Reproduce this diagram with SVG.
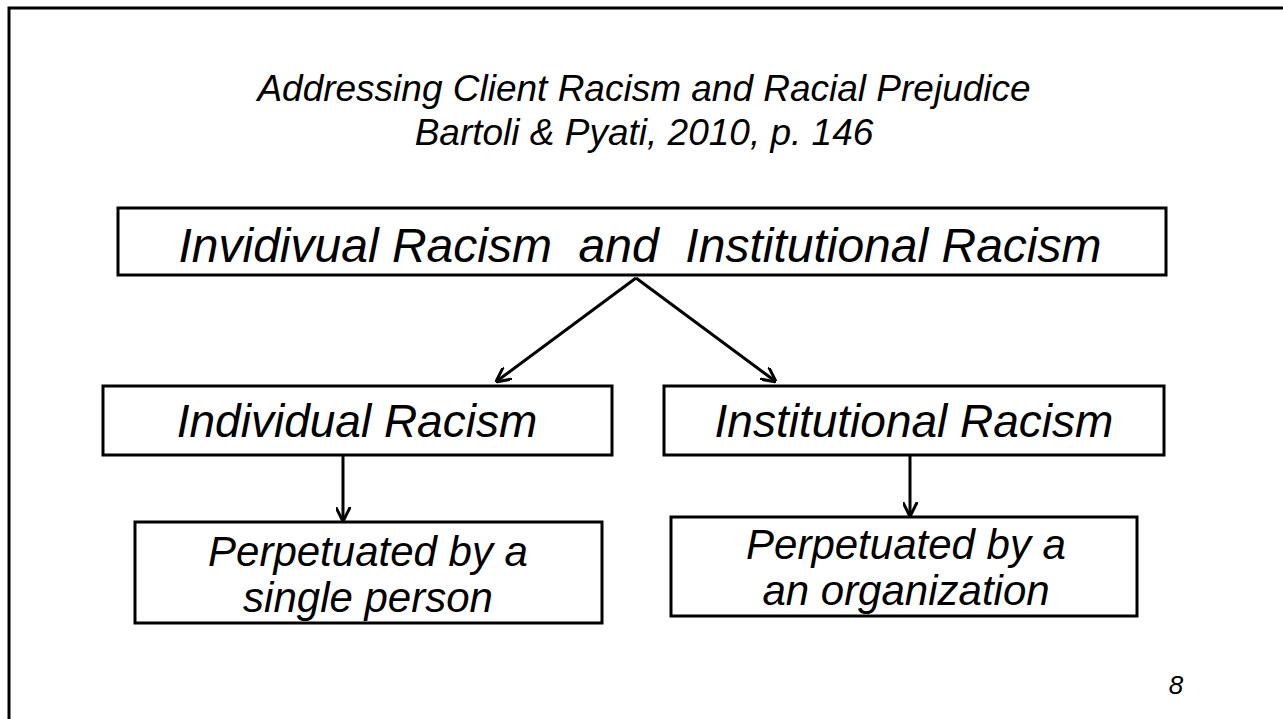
<svg xmlns="http://www.w3.org/2000/svg" width="1283" height="719" viewBox="0 0 1283 719">
  <style>
    .box { fill: #ffffff; stroke: #000000; stroke-width: 3; }
    .frame { fill: #ffffff; stroke: #000000; stroke-width: 3; }
    .lbl { font-family: "Liberation Sans", Arial, sans-serif; font-style: italic; fill: #000000; text-anchor: middle; }
    .title { font-size: 37px; }
    .big { font-size: 48px; }
    .mid { font-size: 46px; }
    .small { font-size: 42px; }
    .conn { stroke: #000000; stroke-width: 3; fill: none; marker-end: url(#arrow); }
  </style>
  <defs>
    <marker id="arrow" viewBox="0 0 10 10" refX="9" refY="5" markerWidth="5" markerHeight="5" orient="auto" markerUnits="strokeWidth">
      <path d="M0,0 L10,5 L0,10" fill="none" stroke="#000000" stroke-width="2"/>
    </marker>
  </defs>

  <rect x="0" y="0" width="1283" height="719" fill="#ffffff"/>
  <!-- slide frame, runs off the right and bottom edges -->
  <rect class="frame" x="9" y="8" width="1400" height="800"/>

  <g id="title">
    <text class="lbl title" x="644" y="101">Addressing Client Racism and Racial Prejudice</text>
    <text class="lbl title" x="644" y="145">Bartoli &amp; Pyati, 2010, p. 146</text>
  </g>

  <g id="connectors">
    <line class="conn" x1="636" y1="278" x2="497" y2="381"/>
    <line class="conn" x1="636" y1="278" x2="775" y2="381"/>
    <line class="conn" x1="343" y1="456" x2="343" y2="520"/>
    <line class="conn" x1="910" y1="456" x2="910" y2="515"/>
  </g>

  <g id="node-main">
    <rect class="box" x="118" y="208" width="1048" height="67"/>
    <text class="lbl big" x="640" y="262" xml:space="preserve">Invidivual Racism  and  Institutional Racism</text>
  </g>

  <g id="node-individual">
    <rect class="box" x="103" y="386" width="509" height="69"/>
    <text class="lbl mid" x="357" y="437">Individual Racism</text>
  </g>

  <g id="node-institutional">
    <rect class="box" x="664" y="386" width="500" height="69"/>
    <text class="lbl mid" x="914" y="437">Institutional Racism</text>
  </g>

  <g id="node-single-person">
    <rect class="box" x="135" y="522" width="467" height="101"/>
    <text class="lbl small" x="368" y="566">Perpetuated by a</text>
    <text class="lbl small" x="368" y="612">single person</text>
  </g>

  <g id="node-organization">
    <rect class="box" x="671" y="517" width="466" height="99"/>
    <text class="lbl small" x="906" y="559">Perpetuated by a</text>
    <text class="lbl small" x="906" y="605">an organization</text>
  </g>

  <text class="lbl" x="1176" y="694" style="font-size:26px">8</text>
</svg>
